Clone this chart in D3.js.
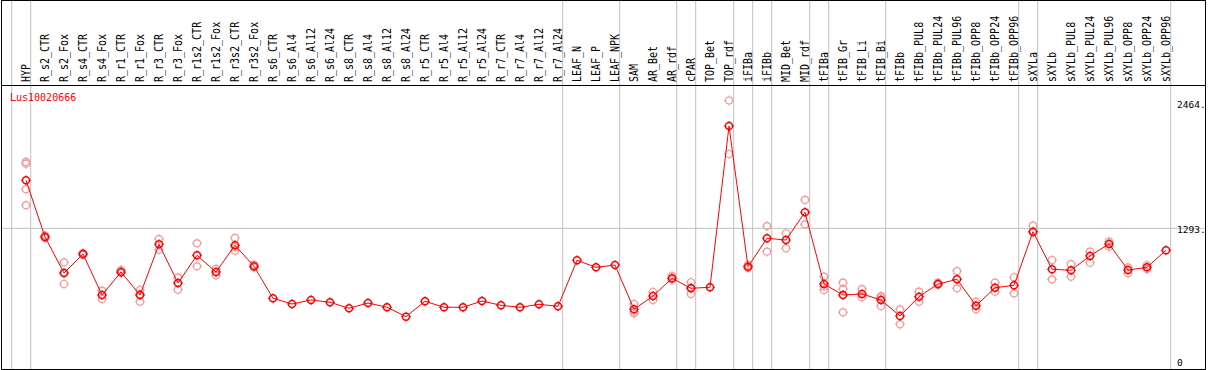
<html>
<head>
  <script src="https://d3js.org/d3.v7.min.js"></script>
  <style>
    body { margin: 0; background: #fff; }
    text { font-family: "DejaVu Sans Mono", monospace; }
  </style>
</head>
<body>
<script type="text/javascript">
// gene name shown in the corner
var geneName = "Lus10020666";

// sample names, left to right
var categories = ["HYP","R_s2_CTR","R_s2_Fox","R_s4_CTR","R_s4_Fox","R_r1_CTR","R_r1_Fox","R_r3_CTR","R_r3_Fox",
  "R_r1s2_CTR","R_r1s2_Fox","R_r3s2_CTR","R_r3s2_Fox","R_s6_CTR","R_s6_Al4","R_s6_Al12","R_s6_Al24",
  "R_s8_CTR","R_s8_Al4","R_s8_Al12","R_s8_Al24","R_r5_CTR","R_r5_Al4","R_r5_Al12","R_r5_Al24",
  "R_r7_CTR","R_r7_Al4","R_r7_Al12","R_r7_Al24","LEAF_N","LEAF_P","LEAF_NPK","SAM","AR_Bet","AR_rdf",
  "cPAR","TOP_Bet","TOP_rdf","iFIBa","iFIBb","MID_Bet","MID_rdf","tFIBa","tFIB_Gr","tFIB_Li","tFIB_Bi",
  "tFIBb","tFIBb_PUL8","tFIBb_PUL24","tFIBb_PUL96","tFIBb_OPP8","tFIBb_OPP24","tFIBb_OPP96",
  "sXYLa","sXYLb","sXYLb_PUL8","sXYLb_PUL24","sXYLb_PUL96","sXYLb_OPP8","sXYLb_OPP24","sXYLb_OPP96"];

// mean expression per sample
var means = [1733,1214,884,1058,682,893,682,1147,792,
  1046,893,1138,945,652,600,637,616,
  561,609,570,484,625,570,570,627,
  588,570,597,579,1000,936,957,551,673,835,
  744,753,2230,942,1202,1186,1440,783,682,692,637,
  490,667,783,826,584,749,771,
  1262,918,909,1040,1150,911,936,1092];

// replicate values per sample (same order)
var replicates = [[1901,1885,1651,1504],[1229,1205,1214],[982,783,884],[1067,1049],[722,646],[911,884],[728,621,690],[1195,1097],[841,731],
  [1156,945],[921,863],[1205,1088,1120],[960,935],[],[],[],[],
  [],[],[],[],[],[],[],[],
  [],[],[],[],[],[],[],[600,515,529],[710,637],[856,820],
  [799,692,750],[],[2464,1974],[957,930],[1314,1079],[1248,1110],[1553,1330],[850,728,760],[795,737,524],[737,661],[673,582,660],
  [551,414],[713,621],[795,775],[902,744],[621,551],[795,713],[845,698],
  [1317,1255],[1003,826],[966,850],[1079,978],[1171,1125],[936,881],[955,920],[]];

// last sample of each group (separator drawn after it)
var groupEnds = ["HYP","R_r7_Al24","LEAF_NPK","AR_rdf","cPAR","TOP_rdf","iFIBa","iFIBb","MID_rdf",
  "tFIBa","tFIB_Bi","tFIBb_OPP96","sXYLa","sXYLb_OPP96"];

var yTicks = [0, 1293, 2464];
var yTickLabels = ["0", "1293.", "2464."];

var width = 1209, height = 370;
var headerBottom = 85.5, frameRight = 1205.5, frameBottom = 369.5;

var svg = d3.select("body").append("svg")
  .attr("width", width)
  .attr("height", height);

var x = d3.scalePoint().domain(categories).range([26, 1166]);
var step = x.step();
var y = d3.scaleLinear().domain([0, 2464]).range([369.5, 100.5]);

// group separators (full height)
var seps = [x(categories[0]) + 4.7 - step].concat(groupEnds.map(function (c) { return x(c) + 4.7; }));
svg.selectAll("line.sep")
  .data(seps)
  .enter().append("line")
    .attr("class", "sep")
    .attr("x1", function (d) { return d; })
    .attr("x2", function (d) { return d; })
    .attr("y1", 0)
    .attr("y2", frameBottom)
    .style("stroke", "#c0c0c0")
    .style("stroke-width", 1);

// horizontal grid line at middle tick
svg.append("line")
  .attr("x1", 1).attr("x2", frameRight)
  .attr("y1", y(yTicks[1])).attr("y2", y(yTicks[1]))
  .style("stroke", "#c0c0c0");

// frame
svg.append("rect")
  .attr("x", 1.5).attr("y", 0.5)
  .attr("width", frameRight - 1.5).attr("height", frameBottom - 0.5)
  .style("fill", "none").style("stroke", "#000");
svg.append("line")
  .attr("x1", 1).attr("x2", frameRight)
  .attr("y1", headerBottom).attr("y2", headerBottom)
  .style("stroke", "#000");

// rotated sample labels
svg.selectAll("text.cat")
  .data(categories)
  .enter().append("text")
    .attr("class", "cat")
    .attr("transform", function (d) { return "translate(" + (x(d) + 3.5) + "," + 82 + ") rotate(-90) scale(1,1.15)"; })
    .style("font-size", "10px")
    .style("fill", "#000")
    .text(function (d) { return d; });

// y tick labels on the right
svg.selectAll("text.ytick")
  .data(yTicks)
  .enter().append("text")
    .attr("class", "ytick")
    .attr("x", 1177)
    .attr("y", function (d) { return Math.max(108, Math.min(366, y(d) + 4.7)); })
    .style("font-size", "9.5px")
    .style("fill", "#000")
    .text(function (d, i) { return yTickLabels[i]; });

// gene title
svg.append("text")
  .attr("x", 10).attr("y", 101)
  .style("font-size", "10px")
  .style("fill", "#ff0000")
  .text(geneName);

// marker: circle with small ticks at N/E/S/W
function marker(g, cx, cy, color, sw) {
  var r = 3.5;
  g.append("circle")
    .attr("cx", cx).attr("cy", cy).attr("r", r)
    .style("fill", "none").style("stroke", color).style("stroke-width", sw);
  [[0, -1], [0, 1], [-1, 0], [1, 0]].forEach(function (d) {
    g.append("line")
      .attr("x1", cx + d[0] * r).attr("y1", cy + d[1] * r)
      .attr("x2", cx + d[0] * (r + 1.5)).attr("y2", cy + d[1] * (r + 1.5))
      .style("stroke", color).style("stroke-width", 1);
  });
}

// replicate points
var repG = svg.append("g").attr("class", "reps");
categories.forEach(function (c, i) {
  replicates[i].forEach(function (v) {
    marker(repG, x(c), y(v), "#f09a9a", 1.2);
  });
});

// mean line
var line = d3.line()
  .x(function (d, i) { return x(categories[i]); })
  .y(function (d) { return y(d); });
svg.append("path")
  .datum(means)
  .attr("d", line)
  .style("fill", "none")
  .style("stroke", "#ff0000")
  .style("stroke-width", 1);

// mean points
var meanG = svg.append("g").attr("class", "means");
categories.forEach(function (c, i) {
  marker(meanG, x(c), y(means[i]), "#ff0000", 1.5);
});
</script>
</body>
</html>
